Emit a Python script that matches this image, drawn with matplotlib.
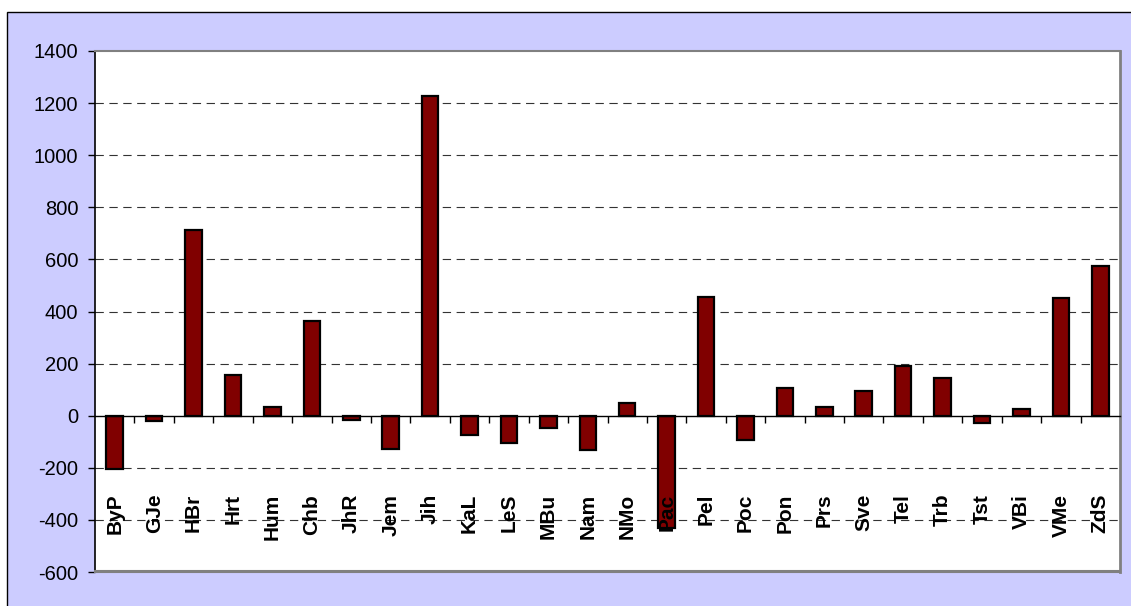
import matplotlib
matplotlib.use("Agg")
import matplotlib.pyplot as plt
from matplotlib.patches import Rectangle

categories = ['ByP', 'GJe', 'HBr', 'Hrt', 'Hum', 'Chb', 'JhR', 'Jem', 'Jih', 'KaL',
              'LeS', 'MBu', 'Nam', 'NMo', 'Pac', 'Pel', 'Poc', 'Pon', 'Prs', 'Sve',
              'Tel', 'Trb', 'Tst', 'VBi', 'VMe', 'ZdS']
values = [-205, -22, 711, 155, 35, 363, -18, -128, 1227, -74,
          -103, -49, -131, 49, -432, 455, -92, 105, 34, 95,
          192, 143, -28, 27, 450, 573]
yticks = [-600, -400, -200, 0, 200, 400, 600, 800, 1000, 1200, 1400]

plt.rcParams['font.family'] = ['Liberation Sans', 'DejaVu Sans']
plt.rcParams['lines.scale_dashes'] = False

W, H = 1131, 606
fig = plt.figure(figsize=(W / 100, H / 100), dpi=100)
fig.patch.set_facecolor('white')

# lavender chart area with black border on left/top
fig.patches.append(Rectangle((7 / W, -0.1), 1.2, 1.1 - 12 / H, transform=fig.transFigure,
                             facecolor='#CCCCFF', edgecolor='black', linewidth=1.0,
                             zorder=-1))

left, right, top, bottom = 95, 1120, 51, 572
ax = fig.add_axes([left / W, 1 - bottom / H, (right - left) / W, (bottom - top) / H])
ax.set_facecolor('white')

n = len(categories)
x = list(range(n))
ax.bar(x, values, width=0.42, color='#800000', edgecolor='black', linewidth=1.6, zorder=3)

ax.set_xlim(-0.5, n - 0.5)
ax.set_ylim(-600, 1400)
ax.set_yticks(yticks)
ax.set_yticklabels([str(v) for v in yticks], fontsize=14.5)
ax.tick_params(axis='y', direction='out', length=5, width=1, pad=7, colors='black')

for v in yticks[1:-1]:
    if v != 0:
        ax.axhline(v, color='#333333', linewidth=0.8, linestyle=(0, (6, 4)), zorder=1)

# category axis at zero
ax.spines['bottom'].set_position(('data', 0))
ax.spines['bottom'].set_linewidth(1)
ax.spines['bottom'].set_zorder(4)
ax.set_xticks([i + 0.5 for i in range(n - 1)])
ax.set_xticklabels([])
ax.tick_params(axis='x', direction='out', length=5, width=1)
ax.spines['left'].set_linewidth(1.2)
ax.spines['top'].set_color('#808080')
ax.spines['right'].set_color('#808080')
ax.spines['top'].set_linewidth(1.5)
ax.spines['right'].set_linewidth(2)

# gray frame bottom of plot area
ax.add_patch(Rectangle((0, 0), 1, 0.002, transform=ax.transAxes, facecolor='#808080',
                       edgecolor='#808080', linewidth=1.5, clip_on=False, zorder=5))

for i, name in enumerate(categories):
    ax.text(i, -300, name, rotation=90, ha='center', va='top', fontsize=15,
            fontweight='bold', zorder=6)

fig.savefig('out.png', dpi=100)
